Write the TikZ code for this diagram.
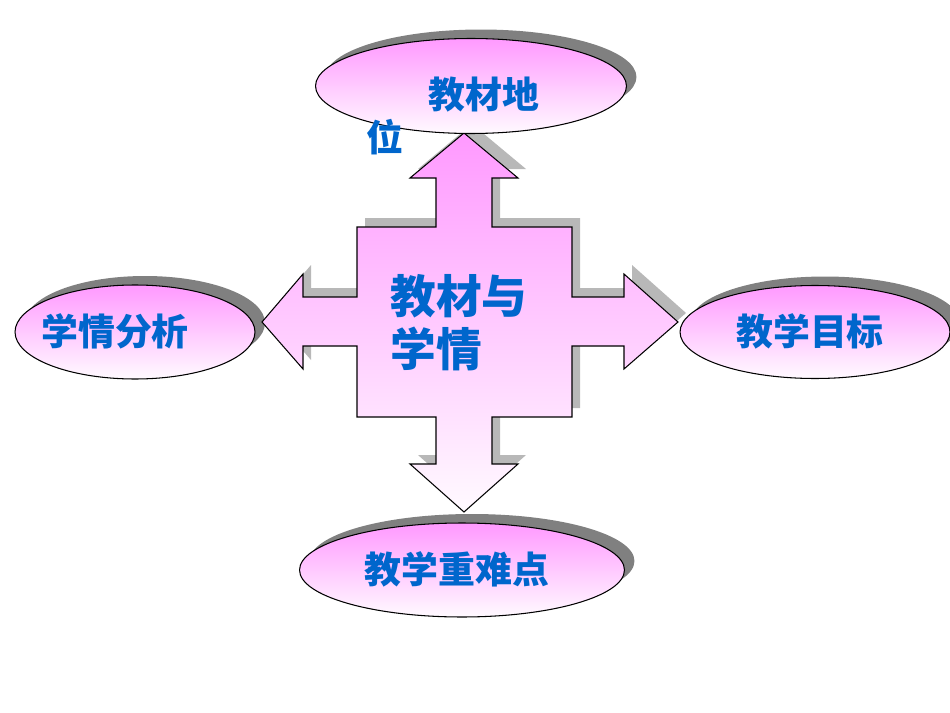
\documentclass[tikz,border=0pt]{standalone}
\usepackage{fontspec}
\newfontfamily\cjk{Noto Sans CJK SC}
\usetikzlibrary{shapes.geometric,shadows}

\definecolor{pinktop}{HTML}{FF99FF}
\definecolor{pinklow}{HTML}{FFFAFF}
\definecolor{inkblue}{HTML}{0066CC}

\begin{document}
\begin{tikzpicture}[
	x=0.02cm, y=-0.02cm,
	oval/.style={
		ellipse, draw=black, line width=0.6pt,
		top color=pinktop, bottom color=pinklow,
		inner sep=0pt,
		drop shadow={shadow xshift=0.2cm, shadow yshift=0.18cm,
			fill=black!50, opacity=1}
	},
	crossbody/.style={
		draw=black, line width=0.6pt,
		top color=pinktop, bottom color=pinklow,
		drop shadow={shadow xshift=0.16cm, shadow yshift=0.18cm,
			fill=black!28, opacity=1}
	},
	ovaltext/.style={
		font=\cjk\bfseries\fontsize{21}{24}\selectfont,
		text=inkblue, inner sep=0pt
	},
	coretext/.style={
		font=\cjk\bfseries\fontsize{26}{30}\selectfont,
		text=inkblue, align=left, inner sep=0pt
	}
]
\useasboundingbox (0,0) rectangle (950,713);

% Side ovals (under the cross)
\node[oval, minimum width=4.8cm, minimum height=1.88cm] (fenxi) at (135,332) {};
\node[oval, minimum width=5.4cm, minimum height=1.86cm] (mubiao) at (815,332) {};

% Cross with four arrow heads, drawn round its centre
\coordinate (mid) at (464,322);
\begin{scope}[shift={(mid)}]
	\path[crossbody]
		(0,-189) -- (54,-144) -- (28,-144) -- (28,-95) -- (108,-95)
		-- (108,-25) -- (160,-25) -- (160,-48) -- (214,0) -- (160,47)
		-- (160,24) -- (108,24) -- (108,95) -- (28,95) -- (28,142)
		-- (54,142) -- (0,190) -- (-54,142) -- (-28,142) -- (-28,95)
		-- (-107,95) -- (-107,24) -- (-161,24) -- (-161,47) -- (-202,0)
		-- (-161,-48) -- (-161,-25) -- (-107,-25) -- (-107,-95)
		-- (-28,-95) -- (-28,-144) -- (-54,-144) -- cycle;
\end{scope}
\node[coretext, anchor=west] (core) at (390,323) {教材与\\学情};

% Top and bottom ovals
\node[oval, minimum width=6.22cm, minimum height=1.9cm] (diwei) at (471,86) {};
\node[oval, minimum width=6.5cm, minimum height=1.88cm] (zhongdian) at (462,570) {};

% Oval texts
\node[ovaltext, align=left, anchor=west] (diweitext) at (366,116)
	{\hspace*{1.68em}教材地\\位};
\node[ovaltext] (fenxitext) at (115,331) {学情分析};
\node[ovaltext] (mubiaotext) at (810,331) {教学目标};
\node[ovaltext] (zhongdiantext) at (457,569) {教学重难点};

\end{tikzpicture}
\end{document}
